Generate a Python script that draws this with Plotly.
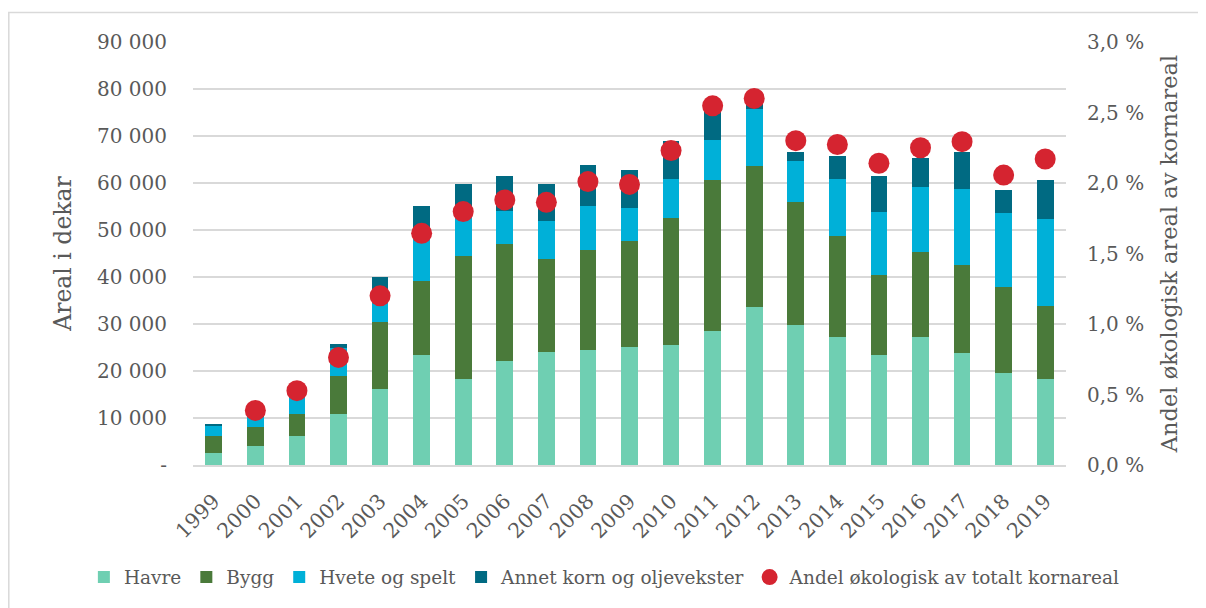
import plotly.graph_objects as go

years = [str(y) for y in range(1999, 2020)]
havre = [2600, 4100, 6100, 10800, 16200, 23400, 18400, 22200, 24100, 24500, 25100,
         25600, 28500, 33700, 29700, 27300, 23400, 27300, 23800, 19600, 18300]
bygg = [3500, 4000, 4700, 8100, 14300, 15800, 26100, 24900, 19800, 21300, 22500,
        27000, 32100, 30000, 26300, 21500, 17000, 18100, 18800, 18200, 15600]
hvete = [2300, 2100, 3700, 5900, 5000, 10800, 10100, 6900, 8000, 9400, 7000,
         8200, 8600, 12100, 8700, 12000, 13400, 13700, 16100, 15800, 18400]
annet = [200, 700, 700, 1000, 4500, 5100, 5200, 7400, 7900, 8600, 8100,
         8100, 6800, 1200, 1900, 4900, 7700, 6300, 7900, 5000, 8300]
andel = [None, 0.387, 0.527, 0.763, 1.2, 1.643, 1.797, 1.88, 1.863, 2.01, 1.99,
         2.23, 2.547, 2.6, 2.3, 2.273, 2.14, 2.25, 2.293, 2.056, 2.17]

left_vals = [0, 10000, 20000, 30000, 40000, 50000, 60000, 70000, 80000, 90000]
left_text = ["-", "10 000", "20 000", "30 000", "40 000", "50 000", "60 000",
             "70 000", "80 000", "90 000"]
right_vals = [0, 0.5, 1.0, 1.5, 2.0, 2.5, 3.0]
right_text = ["0,0 %", "0,5 %", "1,0 %", "1,5 %", "2,0 %", "2,5 %", "3,0 %"]

FONT = "DejaVu Serif"
GRAY = "#595959"

fig = go.Figure()
series = [("Havre", havre, "#6FCFB2"), ("Bygg", bygg, "#4A7A3A"),
          ("Hvete og spelt", hvete, "#00B0D8"), ("Annet korn og oljevekster", annet, "#006A82")]
for name, vals, col in series:
    fig.add_trace(go.Bar(x=years, y=vals, name=name, marker=dict(color=col, line=dict(width=0))))

fig.add_trace(go.Scatter(x=years, y=andel, name="Andel økologisk av totalt kornareal",
                         mode="markers", yaxis="y2",
                         marker=dict(color="#D52430", size=21)))

fig.update_layout(
    width=1206, height=608,
    barmode="stack", bargap=0.6,
    paper_bgcolor="white", plot_bgcolor="white",
    margin=dict(l=185, r=148, t=34, b=151, autoexpand=False),
    font=dict(family=FONT, color=GRAY, size=20),
    showlegend=True,
    legend=dict(orientation="h", x=-0.125, xanchor="left", y=-0.266, yanchor="middle",
                font=dict(size=18.5, color=GRAY), itemwidth=30, traceorder="normal"),
    xaxis=dict(type="category", range=[-0.5, 20.5], tickangle=-45, showgrid=False,
               showline=True, linecolor="#D9D9D9", linewidth=2, ticks="",
               tickfont=dict(size=20.5), ticklabelstandoff=14),
    yaxis=dict(range=[0, 90000], tickvals=left_vals, ticktext=left_text,
               showgrid=True, gridcolor="#D9D9D9", gridwidth=2, zeroline=False,
               ticklabelstandoff=25, tickfont=dict(size=20),
               title=dict(text="Areal i dekar", font=dict(size=23.5, color=GRAY), standoff=18)),
    yaxis2=dict(range=[0, 3.0], tickvals=right_vals, ticktext=right_text,
                overlaying="y", side="right", showgrid=False, zeroline=False,
                ticklabelstandoff=20, tickfont=dict(size=20),
                title=dict(text="Andel økologisk areal av kornareal",
                           font=dict(size=22.5, color=GRAY), standoff=18)),
    shapes=[dict(type="rect", xref="paper", yref="paper",
                 x0=-0.211, x1=1.2, y0=-0.4, y1=1.070,
                 line=dict(color="#D9D9D9", width=1.5), fillcolor="rgba(0,0,0,0)",
                 layer="below")],
)

fig.write_html("out.html")
